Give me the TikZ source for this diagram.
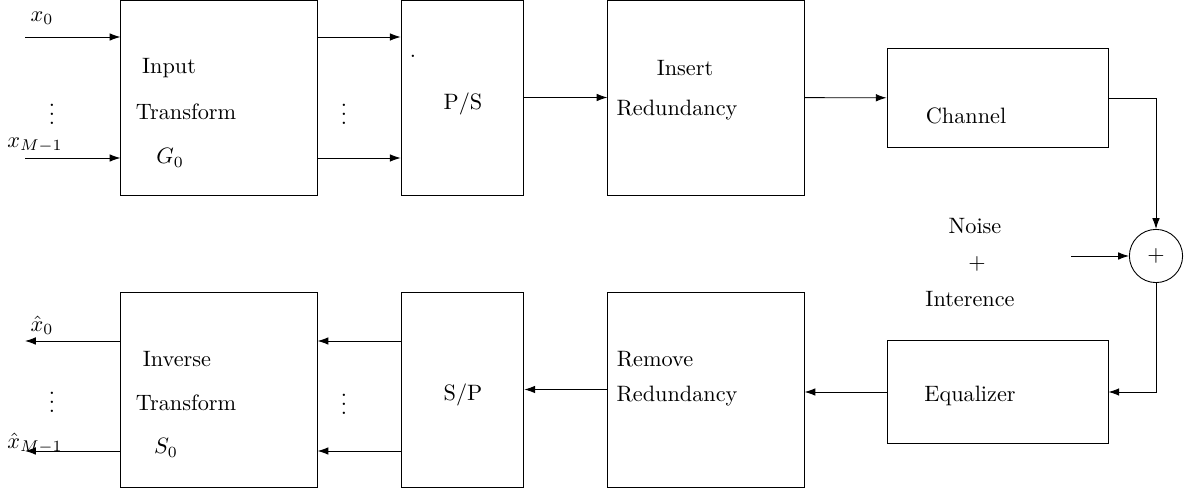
\documentclass[tikz,border=0pt]{standalone}
\usepackage{amsmath, amssymb}
\usepackage{tikz}
\usetikzlibrary{arrows.meta, positioning, shapes, calc}
\tikzset{
  block/.style={draw, rectangle, minimum width=3.1cm, minimum height=3.08cm},
  slimblock/.style={block, minimum width=1.94cm},
  flatblock/.style={draw, rectangle, minimum width=3.49cm, minimum height=1.58cm},
  adder/.style={draw, circle, minimum size=0.84cm, inner sep=0pt},
  dots/.style={inner sep=0pt},
  sig/.style={-{Latex[length=1.7mm, width=1.2mm]}},
}

\begin{document}
\begin{tikzpicture}[x=0.0158cm, y=-0.0158cm]
  \useasboundingbox (0,0) rectangle (1194,490);

  % transmitter
  \node[block] (gtx) at (219,97.5) {};
  \node[slimblock] (ps) at (462.5,97.5) {};
  \node[block] (ins) at (706,97.5) {};
  \node[flatblock, minimum height=1.55cm] (chan) at (997.5,98) {};
  \node[adder] (sum) at (1156,256) {$+$};

  % receiver
  \node[flatblock, minimum height=1.64cm] (eq) at (997.5,392) {};
  \node[block] (rem) at (706,389.5) {};
  \node[slimblock] (sp) at (462.5,389.5) {};
  \node[block] (stx) at (219,389.5) {};

  % texts
  \node (gtxa) at (169,68) {Input};
  \node (gtxb) at (186,112) {Transform};
  \node (gtxc) at (170,158) {$G_0$};
  \node (psdot) at (413,56) {.};
  \node (pslab) at (463,104) {P/S};
  \node (insa) at (685,68) {Insert};
  \node (insb) at (677,110) {Redundancy};
  \node (chanlab) at (966,116) {Channel};
  \node (noisea) at (975,226) {Noise};
  \node (noiseb) at (977,264) {$+$};
  \node (noisec) at (970,299) {Interence};
  \node (eqlab) at (970,396) {Equalizer};
  \node (rema) at (655,359) {Remove};
  \node (remb) at (677,396) {Redundancy};
  \node (splab) at (463,395) {S/P};
  \node (stxa) at (177,359) {Inverse};
  \node (stxb) at (186,403) {Transform};
  \node (stxc) at (166,448) {$S_0$};

  % inputs and outputs
  \coordinate (in0) at (25,37);
  \coordinate (in1) at (25,158);
  \coordinate (out0) at (25,341);
  \coordinate (out1) at (25,451);
  \coordinate (nz) at (1071,256);
  \node (xin0) at (42,18) {$x_0$};
  \node (xin1) at (35,145) {$x_{M-1}$};
  \node[dots] (xdots) at (52,108) {$\vdots$};
  \node[dots] (mdots) at (344,108) {$\vdots$};
  \node (xout0) at (42,325) {$\hat{x}_0$};
  \node (xout1) at (35,443) {$\hat{x}_{M-1}$};
  \node[dots] (ydots) at (52,396) {$\vdots$};
  \node[dots] (ndots) at (344,398) {$\vdots$};

  % forward path
  \draw[sig] (in0) -- (in0 -| gtx.west);
  \draw[sig] (in1) -- (in1 -| gtx.west);
  \draw[sig] (in0 -| gtx.east) -- (in0 -| ps.west);
  \draw[sig] (in1 -| gtx.east) -- (in1 -| ps.west);
  \draw[sig] (ps) -- (ins);
  \draw[sig] (ins) -- (chan);
  \draw[sig] (chan.east) -| (sum.north);
  \draw[sig] (nz) -- (sum.west);
  \draw[sig] (sum.south) |- (eq.east);

  % return path
  \draw[sig] (eq.west) -- (eq.west -| rem.east);
  \draw[sig] (rem) -- (sp);
  \draw[sig] (out0 -| sp.west) -- (out0 -| stx.east);
  \draw[sig] (out1 -| sp.west) -- (out1 -| stx.east);
  \draw[sig] (out0 -| stx.west) -- (out0);
  \draw[sig] (out1 -| stx.west) -- (out1);
\end{tikzpicture}
\end{document}
